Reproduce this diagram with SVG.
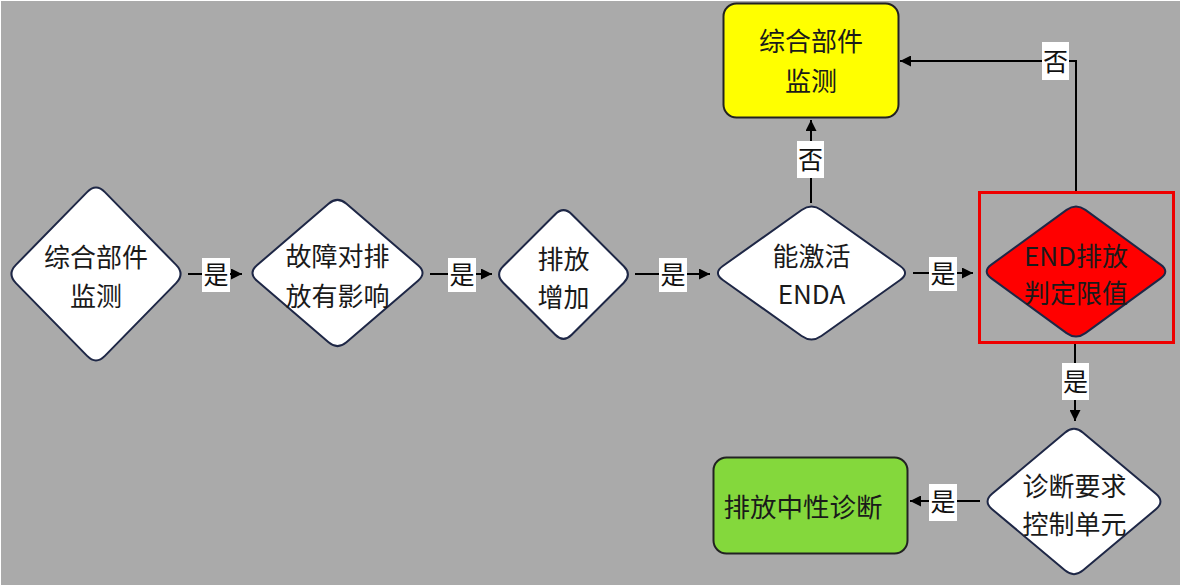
<svg xmlns="http://www.w3.org/2000/svg" width="1181" height="588" viewBox="0 0 1181 588">
<defs>
<style>
.bg{fill:#aaaaaa}
.dia{fill:#ffffff;stroke:#1e2746;stroke-width:2}
.t{font-family:"Noto Sans CJK SC","Noto Sans",sans-serif;font-size:26px;fill:#1a1a1a;text-anchor:middle}
.lb{fill:#ffffff}
.lt{font-family:"Noto Sans CJK SC","Noto Sans",sans-serif;font-size:25px;fill:#111111;text-anchor:middle}
.c{fill:none;stroke:#000000;stroke-width:2}
</style>
<marker id="ah" viewBox="0 0 10 10" refX="10" refY="5" markerWidth="11" markerHeight="11" markerUnits="userSpaceOnUse" orient="auto">
<path d="M0,0 L10,5 L0,10 Z" fill="#000000"/>
</marker>
</defs>
<rect x="0" y="0" width="1181" height="588" fill="#ffffff"/>
<rect class="bg" x="1" y="1" width="1179" height="584"/>

<g id="connectors">
<path class="c" d="M188,274 L242,274" marker-end="url(#ah)"/>
<path class="c" d="M430,274 L492,274" marker-end="url(#ah)"/>
<path class="c" d="M635,274 L710,274" marker-end="url(#ah)"/>
<path class="c" d="M913,273 L973,273" marker-end="url(#ah)"/>
<path class="c" d="M811,203 L811,120" marker-end="url(#ah)"/>
<path class="c" d="M1076,192 L1076,61 L900,61" marker-end="url(#ah)"/>
<path class="c" d="M1075,343 L1075,421" marker-end="url(#ah)"/>
<path class="c" d="M980,501 L910,501" marker-end="url(#ah)"/>
<rect class="lb" x="202" y="258" width="28" height="34"/>
<text class="lt" x="216" y="284">是</text>
<rect class="lb" x="448" y="258" width="28" height="34"/>
<text class="lt" x="462" y="284">是</text>
<rect class="lb" x="659" y="258" width="28" height="34"/>
<text class="lt" x="673" y="284">是</text>
<rect class="lb" x="929" y="257" width="28" height="34"/>
<text class="lt" x="943" y="283">是</text>
<rect class="lb" x="797" y="141" width="27" height="37"/>
<text class="lt" x="810.5" y="169">否</text>
<rect class="lb" x="1042" y="42" width="27" height="38"/>
<text class="lt" x="1055.5" y="71">否</text>
<rect class="lb" x="1062" y="363" width="27" height="37"/>
<text class="lt" x="1075.5" y="391">是</text>
<rect class="lb" x="929" y="484" width="28" height="37"/>
<text class="lt" x="943" y="511">是</text>
</g>

<g id="node1">
<path class="dia" d="M104.9,192.1 L176.1,264.9 Q185,274 176.1,283.1 L104.9,355.9 Q96,365 87.1,355.9 L15.9,283.1 Q7,274 15.9,264.9 L87.1,192.1 Q96,183 104.9,192.1 Z"/>
<text class="t" x="96" y="267">综合部件</text>
<text class="t" x="96" y="306">监测</text>
</g>

<g id="node2">
<path class="dia" d="M346.45,203.7 L418.05,265.3 Q427,273 418.05,280.7 L346.45,342.3 Q337.5,350 328.55,342.3 L256.95,280.7 Q248,273 256.95,265.3 L328.55,203.7 Q337.5,196 346.45,203.7 Z"/>
<text class="t" x="337.5" y="266">故障对排</text>
<text class="t" x="337.5" y="306">放有影响</text>
</g>

<g id="node3">
<path class="dia" d="M571.7,214.2 L623.8,266.3 Q632,274.5 623.8,282.7 L571.7,334.8 Q563.5,343 555.3,334.8 L503.2,282.7 Q495,274.5 503.2,266.3 L555.3,214.2 Q563.5,206 571.7,214.2 Z"/>
<text class="t" x="563.5" y="269">排放</text>
<text class="t" x="563.5" y="307">增加</text>
</g>

<g id="node4">
<path class="dia" d="M821.35,210 L900.15,266 Q910,273 900.15,280 L821.35,336 Q811.5,343 801.65,336 L722.85,280 Q713,273 722.85,266 L801.65,210 Q811.5,203 821.35,210 Z"/>
<text class="t" x="811.5" y="266">能激活</text>
<text class="t" x="811.5" y="304">ENDA</text>
</g>

<g id="node5">
<rect x="979.5" y="192.5" width="194" height="150" fill="none" stroke="#ee0000" stroke-width="3"/>
<path class="dia" style="fill:#ff0000" d="M1085.4,209.85 L1160.6,264.65 Q1170,271.5 1160.6,278.35 L1085.4,333.15 Q1076,340 1066.6,333.15 L991.4,278.35 Q982,271.5 991.4,264.65 L1066.6,209.85 Q1076,203 1085.4,209.85 Z"/>
<text class="t" x="1076" y="266">END排放</text>
<text class="t" x="1076" y="303">判定限值</text>
</g>

<g id="node6">
<rect x="723.5" y="3.5" width="175" height="114" rx="13" ry="13" fill="#ffff00" stroke="#222222" stroke-width="2"/>
<text class="t" x="811" y="51">综合部件</text>
<text class="t" x="811" y="91">监测</text>
</g>

<g id="node7">
<path class="dia" d="M1083.1,432.65 L1155.9,493.85 Q1165,501.5 1155.9,509.15 L1083.1,570.35 Q1074,578 1064.9,570.35 L992.1,509.15 Q983,501.5 992.1,493.85 L1064.9,432.65 Q1074,425 1083.1,432.65 Z"/>
<text class="t" x="1074.5" y="496">诊断要求</text>
<text class="t" x="1074.5" y="534">控制单元</text>
</g>

<g id="node8">
<rect x="713.5" y="457.5" width="194" height="96" rx="13" ry="13" fill="#84d83c" stroke="#222222" stroke-width="2"/>
<text class="t" x="803" y="517" style="font-size:26.5px">排放中性诊断</text>
</g>
</svg>
